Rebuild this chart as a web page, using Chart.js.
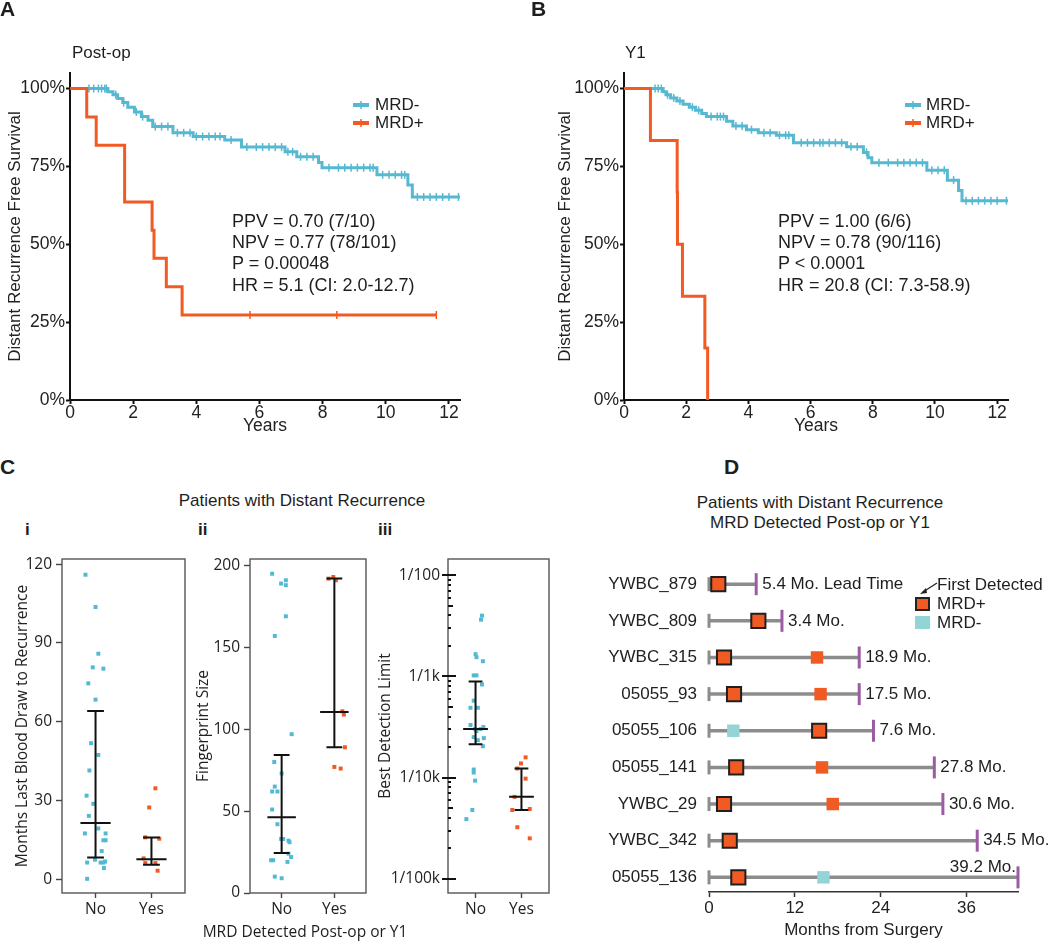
<!DOCTYPE html>
<html>
<head>
<meta charset="utf-8">
<script src="https://cdn.jsdelivr.net/npm/chart.js@4.4.1/dist/chart.umd.min.js"></script>
<style>
  body { margin: 0; background: #fff; }
  #fig { position: relative; width: 1050px; height: 942px; overflow: hidden; background: #fff;
         font-family: "Liberation Sans", Arial, sans-serif; color: #1e1e1e; }
  #fig canvas { position: absolute; }
  .t { position: absolute; white-space: nowrap; line-height: 1; }
  .letter { font-weight: bold; font-size: 21px; }
  .s17 { font-size: 17px; }
  .stat { font-size: 18px; }
  .os { font-family: "Open Sans", sans-serif; font-size: 15.5px; }
  .mid { transform: translateX(-50%); }
  .sq { position: absolute; box-sizing: border-box; }
</style>
</head>
<body>
<div id="fig">
  <canvas id="kmA" width="520" height="440" style="left:0;top:0"></canvas>
  <canvas id="kmB" width="530" height="440" style="left:520px;top:0"></canvas>
  <canvas id="dotI" width="190" height="402" style="left:0;top:540px"></canvas>
  <canvas id="dotII" width="180" height="402" style="left:190px;top:540px"></canvas>
  <canvas id="dotIII" width="185" height="402" style="left:370px;top:540px"></canvas>
  <canvas id="swim" width="460" height="402" style="left:590px;top:540px"></canvas>

  <!-- panel A -->
  <div class="t letter" style="left:0;top:-2px">A</div>
  <div class="t s17" style="left:72px;top:44px">Post-op</div>
  <div class="t stat" style="left:232px;top:212px">PPV = 0.70 (7/10)</div>
  <div class="t stat" style="left:232px;top:233px">NPV = 0.77 (78/101)</div>
  <div class="t stat" style="left:232px;top:254px">P = 0.00048</div>
  <div class="t stat" style="left:232px;top:276px">HR = 5.1 (CI: 2.0-12.7)</div>
  <svg class="t" style="left:353px;top:100px" width="16" height="10"><line x1="0" y1="5" x2="16" y2="5" stroke="#56B8D1" stroke-width="4"/><line x1="8" y1="1" x2="8" y2="9" stroke="#56B8D1" stroke-width="1.5"/></svg>
  <svg class="t" style="left:353px;top:118px" width="16" height="10"><line x1="0" y1="5" x2="16" y2="5" stroke="#F15A22" stroke-width="4"/><line x1="8" y1="1" x2="8" y2="9" stroke="#F15A22" stroke-width="1.5"/></svg>
  <div class="t s17" style="left:375px;top:96px">MRD-</div>
  <div class="t s17" style="left:375px;top:114px">MRD+</div>

  <!-- panel B -->
  <div class="t letter" style="left:531px;top:-2px">B</div>
  <div class="t s17" style="left:625px;top:44px">Y1</div>
  <div class="t stat" style="left:778px;top:212px">PPV = 1.00 (6/6)</div>
  <div class="t stat" style="left:778px;top:233px">NPV = 0.78 (90/116)</div>
  <div class="t stat" style="left:778px;top:254px">P &lt; 0.0001</div>
  <div class="t stat" style="left:778px;top:276px">HR = 20.8 (CI: 7.3-58.9)</div>
  <svg class="t" style="left:905px;top:100px" width="16" height="10"><line x1="0" y1="5" x2="16" y2="5" stroke="#56B8D1" stroke-width="4"/><line x1="8" y1="1" x2="8" y2="9" stroke="#56B8D1" stroke-width="1.5"/></svg>
  <svg class="t" style="left:905px;top:118px" width="16" height="10"><line x1="0" y1="5" x2="16" y2="5" stroke="#F15A22" stroke-width="4"/><line x1="8" y1="1" x2="8" y2="9" stroke="#F15A22" stroke-width="1.5"/></svg>
  <div class="t s17" style="left:926px;top:96px">MRD-</div>
  <div class="t s17" style="left:926px;top:114px">MRD+</div>

  <!-- panel C -->
  <div class="t letter" style="left:0;top:456px">C</div>
  <div class="t s17 mid" style="left:302px;top:492px">Patients with Distant Recurrence</div>
  <div class="t s17" style="left:25px;top:521px;font-weight:bold">i</div>
  <div class="t s17" style="left:198px;top:521px;font-weight:bold">ii</div>
  <div class="t s17" style="left:378px;top:521px;font-weight:bold">iii</div>
  <div class="t os mid" style="left:305px;top:924px">MRD Detected Post-op or Y1</div>

  <!-- panel D -->
  <div class="t letter" style="left:724px;top:456px">D</div>
  <div class="t s17 mid" style="left:820px;top:494px">Patients with Distant Recurrence</div>
  <div class="t s17 mid" style="left:820px;top:514px">MRD Detected Post-op or Y1</div>
  <div class="t s17" style="left:937px;top:576px">First Detected</div>
  <div class="t s17" style="left:937px;top:595px">MRD+</div>
  <div class="t s17" style="left:937px;top:614px">MRD-</div>
  <div class="sq" style="left:915px;top:597px;width:15px;height:14px;background:#F15A22;border:2px solid #222"></div>
  <div class="sq" style="left:915px;top:616px;width:15px;height:13px;background:#93D4D6"></div>
  <svg class="t" style="left:916px;top:578px" width="24" height="22">
    <line x1="21" y1="5" x2="7" y2="14" stroke="#222" stroke-width="1.3"/>
    <polygon points="4,16 10,10 11,15" fill="#222"/>
  </svg>
</div>

<script>
// ---------- data ----------
const mrdNegColor = '#56B8D1';
const mrdPosColor = '#F15A22';

const yearTicks = [0, 2, 4, 6, 8, 10, 12];
const survivalTicks = [0, 25, 50, 75, 100];

// Panel A, post-op: [years, % free of distant recurrence] at each step
const postopNegSteps = [[0,100],[1.2,99],[1.36,98],[1.51,96.8],[1.67,95.5],[1.83,94],[2.04,92.5],[2.26,91],[2.47,89.8],[2.62,87.8],[3.26,85.8],[3.9,84.6],[4.9,83.5],[5.43,81.2],[6.81,79.7],[7.18,78.1],[7.87,76.3],[7.98,74.6],[9.72,72.3],[10.7,69],[10.84,65.2],[12.35,65.2]];
const postopNegCensor = [0.6,0.75,0.9,1.0,1.1,1.15,1.45,1.7,2.1,2.3,2.7,2.9,3.1,3.4,3.6,3.8,4.0,4.2,4.4,4.6,4.75,5.1,5.6,5.9,6.1,6.3,6.5,6.7,6.9,7.05,7.3,7.5,7.7,8.2,8.5,8.7,8.9,9.1,9.3,9.5,9.6,9.9,10.1,10.3,10.5,10.6,11.0,11.2,11.4,11.6,11.8,12.0,12.3];
const postopPosSteps = [[0,100],[0.53,90.9],[0.83,81.8],[1.73,63.6],[2.6,54.5],[2.66,45.5],[3.05,36.4],[3.55,27.3],[11.6,27.3]];
const postopPosCensor = [5.7, 8.45, 11.6];

// Panel B, Y1
const y1NegSteps = [[0,100],[1.26,99],[1.35,98],[1.5,97],[1.7,96],[1.9,95],[2.1,94],[2.3,93],[2.5,92],[2.65,91],[3.3,89.5],[3.5,88],[3.94,86.8],[4.32,85.8],[4.9,85],[5.45,82.6],[7.16,81.3],[7.7,79.5],[7.85,77.8],[7.97,76.2],[9.74,73.8],[10.4,70.6],[10.76,67.3],[10.87,64],[12.35,64]];
const y1NegCensor = [1.0,1.1,1.2,1.4,1.6,1.8,2.2,2.4,2.8,3.0,3.1,3.2,3.6,3.8,4.1,4.5,4.7,5.0,5.2,5.3,5.7,5.9,6.1,6.3,6.4,6.6,6.8,7.0,7.3,7.5,7.8,8.2,8.5,8.8,9.0,9.2,9.4,9.6,9.9,10.1,10.3,10.6,11.0,11.2,11.4,11.6,11.8,12.0,12.3];
const y1PosSteps = [[0,100],[0.85,83.3],[1.71,66.7],[1.72,50],[1.88,33.3],[2.6,16.7],[2.69,0]];
const y1PosCensor = [];

// Panel C: groups No / Yes (MRD detected post-op or Y1)
const groupLabels = ['No', 'Yes'];
// i: months from last blood draw to recurrence
const monthsNo = [116,103.7,85.9,80.7,80.2,74.6,68.4,51.8,47.3,41.4,31.8,28.7,24.1,19.3,17.4,17.4,14.8,14.8,10.7,6.3,7.4,6.3,6.3,6.7,4.2,0.1];
const monthsNoJitter = [-0.18,0,0.05,-0.05,0.14,-0.13,0,-0.08,0.05,-0.11,-0.16,-0.04,-0.12,0.05,-0.19,0.18,0.14,0.18,0.11,-0.15,-0.01,0.09,0.14,0.17,0.15,-0.15];
const monthsYes = [34.6,27.3,15.9,15.4,7.9,6.1,6.1,3.2];
const monthsYesJitter = [0.07,-0.04,-0.11,0.14,-0.14,-0.11,0.07,0.11];
const monthsStats = [[8.2,21.4,64.1],[5.5,7.6,15.9]];   // [low, median, high]
const monthsTicks = [0, 30, 60, 90, 120];

// ii: fingerprint size
const fpNo = [195,189,191,188,169,157,97,80,73,65,62,62,51,42,33,33,32,31,24,22,20,20,19,10,9];
const fpNoJitter = [-0.18,-0.01,0.08,0.08,0.08,-0.13,0.19,-0.14,0,-0.13,-0.18,-0.08,-0.18,-0.08,-0.01,0.03,0.13,0.15,0.13,0.18,-0.2,-0.16,0.11,-0.13,0];
const fpYes = [192,193,191,111,109,89,77,76];
const fpYesJitter = [-0.11,-0.02,0.03,0.15,0.18,0.2,0,0.12];
const fpStats = [[24.4,46.2,84.3],[89,110.6,192.1]];
const fpTicks = [0, 50, 100, 150, 200];

// iii: best detection limit, as 1/N
const limitNo = [251,275,603,646,708,977,977,1202,1738,2042,2042,3020,3162,3311,3311,3467,4074,3981,4266,4898,8318,8913,10715,20893,25704];
const limitNoJitter = [0.14,0.12,0,0.02,0.16,-0.04,0.02,0.14,-0.04,-0.11,0.05,-0.11,0.17,-0.01,0.11,0.02,0.18,-0.04,0.05,0.16,-0.04,-0.04,-0.01,-0.07,-0.2];
const limitYes = [6310,7244,8128,10233,15488,20417,20893,30903,39811];
const limitYesJitter = [0.09,-0.01,-0.09,0.09,-0.15,0.18,-0.2,-0.09,0.18];
const limitStats = [[4677,3311,1122],[20893,15488,8128]];
const limitTickLabels = {'-5': '1/100k', '-4': '1/10k', '-3': '1/1k', '-2': '1/100'};

// Panel D: swimmer rows (months from surgery)
const patients = ['YWBC_879','YWBC_809','YWBC_315','05055_93','05055_106','05055_141','YWBC_29','YWBC_342','05055_136'];
const recurrenceMonth = [6.6,10.2,21.0,21.0,23.0,31.5,32.7,37.5,43.2];
const firstDetected = [1.3,6.9,2.1,3.5,15.4,3.8,2.1,2.9,4.1];
const laterPositive = [null,null,15.1,15.6,null,15.8,17.3,null,null];
const negativeDraw = [null,null,null,null,3.4,null,null,null,16.0];
const leadLabels = ['5.4 Mo. Lead Time','3.4 Mo.','18.9 Mo.','17.5 Mo.','7.6 Mo.','27.8 Mo.','30.6 Mo.','34.5 Mo.','39.2 Mo.'];
const monthTicks = [0, 12, 24, 36];

// ---------- helpers ----------
Chart.defaults.font.family = '"Liberation Sans", Arial, sans-serif';
Chart.defaults.color = '#1e1e1e';
Chart.defaults.animation = false;
Chart.defaults.events = [];

function survivalAt(steps, t) {
  let s = steps[0][1];
  steps.forEach(p => { if (p[0] <= t) s = p[1]; });
  return s;
}

function fixedTicks(list) {
  return scale => { scale.ticks = list.map(v => ({ value: v })); };
}

function kmChart(id, neg, negCensor, pos, posCensor, padLeft, padRight, titlePad) {
  const stepLine = (steps, color) => ({
    data: steps.map(p => ({ x: p[0], y: p[1] })),
    showLine: true, stepped: 'before', borderColor: color, borderWidth: 3, pointRadius: 0
  });
  const censor = (times, steps, color) => ({
    data: times.map(t => ({ x: t, y: survivalAt(steps, t) })),
    pointStyle: 'line', pointRotation: 90, pointRadius: 4, borderColor: color, pointBorderWidth: 1.5
  });
  return new Chart(document.getElementById(id), {
    type: 'scatter',
    data: { datasets: [
      censor(posCensor, pos, mrdPosColor), stepLine(pos, mrdPosColor),
      censor(negCensor, neg, mrdNegColor), stepLine(neg, mrdNegColor)
    ] },
    options: {
      responsive: false, devicePixelRatio: 1,
      layout: { padding: { left: padLeft, top: 73, right: padRight, bottom: 0 } },
      plugins: { legend: { display: false }, tooltip: { enabled: false } },
      scales: {
        x: {
          type: 'linear', min: 0, max: 12.35,
          afterBuildTicks: fixedTicks(yearTicks),
          afterFit: s => { s.height = 40; },
          border: { color: '#111', width: 2 },
          grid: { drawOnChartArea: false, tickLength: 4, tickColor: '#111', tickWidth: 2 },
          ticks: { font: { size: 17.5 }, color: '#222', padding: -1, maxRotation: 0 },
          title: { display: true, text: 'Years', font: { size: 17.5 }, color: '#222', padding: { top: 0, bottom: 3 } }
        },
        y: {
          min: 0, max: 105,
          afterBuildTicks: fixedTicks(survivalTicks),
          afterFit: s => { s.width = 70; },
          border: { color: '#111', width: 2 },
          grid: { drawOnChartArea: false, tickLength: 4, tickColor: '#111', tickWidth: 2 },
          ticks: { font: { size: 17.5 }, color: '#222', padding: 1, callback: v => v + '%' },
          title: { display: true, text: 'Distant Recurrence Free Survival', font: { size: 17 }, color: '#222', padding: { top: titlePad, bottom: 0 } }
        }
      }
    }
  });
}

kmChart('kmA', postopNegSteps, postopNegCensor, postopPosSteps, postopPosCensor, 0, 60, 5);
kmChart('kmB', y1NegSteps, y1NegCensor, y1PosSteps, y1PosCensor, 34, 42, 1);

// ---------- panel C ----------
const boxPlugin = {
  id: 'box',
  afterDraw(chart) {
    const a = chart.chartArea, ctx = chart.ctx;
    ctx.save();
    ctx.strokeStyle = '#555';
    ctx.lineWidth = 1.4;
    ctx.strokeRect(a.left, a.top, a.right - a.left, a.bottom - a.top);
    ctx.restore();
  }
};

const logTickPlugin = {
  id: 'logTicks',
  afterDraw(chart) {
    const y = chart.scales.y, left = chart.chartArea.left, ctx = chart.ctx;
    ctx.save();
    ctx.strokeStyle = '#111';
    ctx.lineWidth = 2;
    y.ticks.forEach(t => {
      const py = Math.round(y.getPixelForValue(t.value));
      const m = Math.round(t.value / Math.pow(10, Math.floor(Math.log10(t.value) + 1e-9)));
      ctx.beginPath();
      if (m === 1) { ctx.moveTo(left - 6, py); ctx.lineTo(left + 8, py); }
      else if (m === 5) { ctx.moveTo(left, py); ctx.lineTo(left + 5, py); }
      else { ctx.moveTo(left, py); ctx.lineTo(left + 3, py); }
      ctx.stroke();
    });
    ctx.restore();
  }
};

function errorBars(stats, f) {
  const cap = 0.15, med = 0.27, pts = [];
  stats.forEach((s, g) => {
    const c = g + 1, lo = f(s[0]), md = f(s[1]), hi = f(s[2]);
    pts.push({ x: c - cap, y: lo }, { x: c + cap, y: lo }, { x: c, y: null },
             { x: c - cap, y: hi }, { x: c + cap, y: hi }, { x: c, y: null },
             { x: c, y: lo }, { x: c, y: hi }, { x: c, y: null },
             { x: c - med, y: md }, { x: c + med, y: md }, { x: c, y: null });
  });
  return pts;
}

function dotChart(id, c) {
  const f = c.f || (v => v);
  const pts = (vals, jit, g) => vals.map((v, i) => ({ x: g + jit[i], y: f(v) }));
  const yScale = Object.assign({
    afterFit: s => { s.width = c.yWidth; },
    border: { display: false },
    grid: { drawOnChartArea: false, tickLength: 6, tickColor: '#444', tickWidth: 1.4 },
    ticks: { font: { family: '"Open Sans", sans-serif', size: 15.5 }, color: '#222', padding: 4 },
    title: { display: true, text: c.title, font: { family: '"Open Sans", sans-serif', size: 15.5 }, color: '#222', padding: { top: c.titlePad, bottom: 0 } }
  }, c.y);
  return new Chart(document.getElementById(id), {
    type: 'scatter',
    data: { datasets: [
      { data: errorBars(c.stats, f), showLine: true, spanGaps: false, borderColor: '#111', borderWidth: 2, pointRadius: 0 },
      { data: pts(c.no, c.noJit, 1), pointStyle: 'rect', pointRadius: 2.8, backgroundColor: '#52B9D2', borderWidth: 0 },
      { data: pts(c.yes, c.yesJit, 2), pointStyle: 'rect', pointRadius: 2.8, backgroundColor: mrdPosColor, borderWidth: 0 }
    ] },
    options: {
      responsive: false, devicePixelRatio: 1,
      layout: { padding: { left: 0, top: 19, right: c.padRight, bottom: 0 } },
      plugins: { legend: { display: false }, tooltip: { enabled: false } },
      scales: {
        x: {
          type: 'linear', min: 0.4, max: 2.6,
          afterBuildTicks: fixedTicks([1, 2]),
          afterFit: s => { s.height = 49; },
          border: { display: false },
          grid: { drawOnChartArea: false, tickLength: 5, tickColor: '#444', tickWidth: 1.4 },
          ticks: { font: { family: '"Open Sans", sans-serif', size: 15.5 }, color: '#222', padding: 2, maxRotation: 0,
                   callback: v => groupLabels[v - 1] }
        },
        y: yScale
      }
    },
    plugins: c.plugins
  });
}

dotChart('dotI', {
  no: monthsNo, noJit: monthsNoJitter, yes: monthsYes, yesJit: monthsYesJitter, stats: monthsStats,
  yWidth: 62, padRight: 5, titlePad: 13, title: 'Months Last Blood Draw to Recurrence',
  y: { min: -5.3, max: 122, afterBuildTicks: fixedTicks(monthsTicks) },
  plugins: [boxPlugin]
});

dotChart('dotII', {
  no: fpNo, noJit: fpNoJitter, yes: fpYes, yesJit: fpYesJitter, stats: fpStats,
  yWidth: 60, padRight: 3, titlePad: 4, title: 'Fingerprint Size',
  y: { min: 0, max: 204, afterBuildTicks: fixedTicks(fpTicks) },
  plugins: [boxPlugin]
});

const limitTickValues = [];
for (let e = -5; e <= -2; e++) {
  for (let m = 1; m <= 9; m++) {
    const v = m * Math.pow(10, e);
    if (v >= Math.pow(10, -5.14) && v <= Math.pow(10, -1.84)) limitTickValues.push(v);
  }
}

dotChart('dotIII', {
  no: limitNo, noJit: limitNoJitter, yes: limitYes, yesJit: limitYesJitter, stats: limitStats,
  f: d => 1 / d,
  yWidth: 78, padRight: 6, titlePad: 6, title: 'Best Detection Limit',
  y: {
    type: 'logarithmic', min: Math.pow(10, -5.14), max: Math.pow(10, -1.84),
    afterBuildTicks: fixedTicks(limitTickValues),
    grid: { drawOnChartArea: false, tickLength: 6, tickColor: 'rgba(0,0,0,0)' },
    ticks: { font: { family: '"Open Sans", sans-serif', size: 15.5 }, color: '#222', padding: 2, autoSkip: false,
             callback: v => { const e = Math.log10(v); return Math.abs(e - Math.round(e)) < 1e-6 ? limitTickLabels[Math.round(e)] : ''; } }
  },
  plugins: [boxPlugin, logTickPlugin]
});

// ---------- panel D ----------
const leadLabelPlugin = {
  id: 'leadLabels',
  afterDatasetsDraw(chart) {
    const { ctx, scales: { x, y } } = chart;
    ctx.save();
    ctx.font = '17px "Liberation Sans", Arial, sans-serif';
    ctx.fillStyle = '#1e1e1e';
    ctx.textBaseline = 'middle';
    leadLabels.forEach((txt, i) => {
      const px = x.getPixelForValue(recurrenceMonth[i]);
      const py = y.getPixelForValue(i);
      if (i === leadLabels.length - 1) { ctx.textAlign = 'right'; ctx.fillText(txt, px - 2, py - 10); }
      else { ctx.textAlign = 'left'; ctx.fillText(txt, px + 6, py); }
    });
    ctx.restore();
  }
};

const rowPoints = vals => vals.map((v, i) => (v === null ? null : { x: v, y: i })).filter(p => p);

new Chart(document.getElementById('swim'), {
  type: 'scatter',
  data: { datasets: [
    ...patients.map((p, i) => ({
      data: [{ x: 0, y: i }, { x: recurrenceMonth[i], y: i }], showLine: true,
      borderColor: '#8C8C8C', borderWidth: 3.5, pointRadius: 0, order: 3, clip: false
    })),
    { data: patients.map((p, i) => ({ x: 0, y: i })), pointStyle: 'line', pointRotation: 90, pointRadius: 7,
      borderColor: '#8C8C8C', pointBorderWidth: 3, order: 2, clip: false },
    { data: rowPoints(recurrenceMonth), pointStyle: 'line', pointRotation: 90, pointRadius: 11,
      borderColor: '#9C5CA4', pointBorderWidth: 3, order: 2, clip: false },
    { data: rowPoints(negativeDraw), pointStyle: 'rect', pointRadius: 8.8, backgroundColor: '#93D4D6', borderWidth: 0, order: 1, clip: false },
    { data: rowPoints(laterPositive), pointStyle: 'rect', pointRadius: 8.8, backgroundColor: mrdPosColor, borderWidth: 0, order: 1, clip: false },
    { data: rowPoints(firstDetected), pointStyle: 'rect', pointRadius: 10, backgroundColor: mrdPosColor,
      borderColor: '#1f1f1f', pointBorderWidth: 2, order: 0, clip: false }
  ] },
  options: {
    responsive: false, devicePixelRatio: 1,
    layout: { padding: { left: 0, top: 18, right: 32, bottom: 0 } },
    plugins: { legend: { display: false }, tooltip: { enabled: false } },
    scales: {
      x: {
        type: 'linear', min: 0, max: 43.2,
        afterBuildTicks: fixedTicks(monthTicks),
        afterFit: s => { s.height = 50; },
        border: { color: '#333', width: 1.5 },
        grid: { drawOnChartArea: false, tickLength: 5, tickColor: '#333', tickWidth: 1.5 },
        ticks: { font: { size: 17 }, color: '#222', padding: 1, maxRotation: 0 },
        title: { display: true, text: 'Months from Surgery', font: { size: 17 }, color: '#222', padding: { top: 0, bottom: 1 } }
      },
      y: {
        type: 'linear', min: -0.6, max: 8.4, reverse: true,
        afterBuildTicks: fixedTicks(patients.map((p, i) => i)),
        afterFit: s => { s.width = 119; },
        border: { display: false },
        grid: { display: false, drawTicks: false },
        ticks: { font: { size: 17 }, color: '#222', padding: 12, autoSkip: false, callback: v => patients[v] }
      }
    }
  },
  plugins: [leadLabelPlugin]
});
</script>
</body>
</html>
